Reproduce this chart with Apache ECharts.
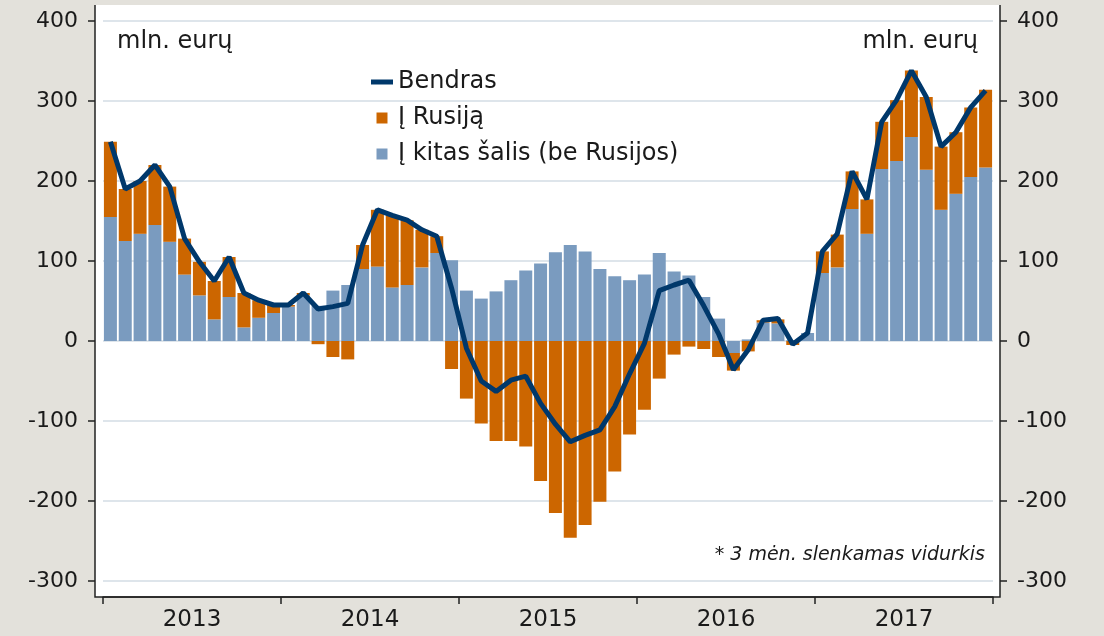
<!DOCTYPE html>
<html>
<head>
<meta charset="utf-8">
<script src="https://cdn.jsdelivr.net/npm/echarts@6/dist/echarts.min.js"></script>
<style>
  html, body { margin: 0; padding: 0; background: #e3e1db; }
  #chart { width: 1104px; height: 636px; }
</style>
</head>
<body>
<div id="chart"></div>
<script>
const years = ['2013', '2014', '2015', '2016', '2017'];
const monthsPerYear = 12;

// Į kitas šalis (be Rusijos), mln. eurų
const otherCountries = [
  155, 125, 134, 145, 124, 83, 57, 27, 55, 17, 29, 35,
  43, 57, 44, 63, 70, 90, 93, 67, 70, 92, 110, 101,
  63, 53, 62, 76, 88, 97, 111, 120, 112, 90, 81, 76,
  83, 110, 87, 82, 55, 28, -15, 2, 23, 22, 1, 10,
  85, 92, 165, 134, 215, 225, 255, 214, 164, 184, 205, 217
];
// Į Rusiją
const russia = [
  94, 65, 66, 75, 69, 45, 42, 48, 50, 43, 22, 10,
  2, 3, -4, -20, -23, 30, 71, 90, 81, 47, 21, -35,
  -72, -103, -125, -125, -132, -175, -215, -246, -230, -201, -163, -117,
  -86, -47, -17, -7, -10, -20, -22, -13, 3, 5, -5, 0,
  27, 41, 47, 43, 59, 76, 83, 91, 79, 77, 87, 97
];
// Bendras (3 mėn. slenkamas vidurkis)
const total = [
  249, 190, 200, 220, 193, 128, 99, 75, 105, 60, 51, 45,
  45, 60, 40, 43, 47, 120, 164, 157, 151, 139, 131, 66,
  -9, -50, -63, -49, -44, -78, -104, -126, -118, -111, -82, -41,
  -3, 63, 70, 76, 44, 9, -36, -11, 26, 28, -4, 10,
  112, 134, 212, 177, 274, 301, 338, 305, 243, 261, 292, 313
];
const yTicks = [-300, -200, -100, 0, 100, 200, 300, 400];

const months = [];
years.forEach(y => {
  for (let m = 1; m <= monthsPerYear; m++) months.push(y + '-' + String(m).padStart(2, '0'));
});

const font = 'DejaVu Sans';
const chart = echarts.init(document.getElementById('chart'));

const yAxisBase = {
  type: 'value',
  min: yTicks[0],
  max: yTicks[yTicks.length - 1],
  interval: 100,
  axisLine: { show: false },
  axisTick: { show: true, length: 7, lineStyle: { color: '#222', width: 1.5 } },
  axisLabel: { fontFamily: font, fontSize: 22, color: '#1a1a1a', margin: 17 }
};

chart.setOption({
  animation: false,
  backgroundColor: '#e3e1db',
  grid: { left: 103, right: 111, top: 21, bottom: 55 },
  legend: {
    orient: 'vertical',
    left: 366,
    top: 65,
    itemWidth: 22,
    itemHeight: 11,
    itemGap: 12,
    textStyle: { fontFamily: font, fontSize: 24, color: '#1a1a1a' },
    data: [
      { name: 'Bendras', icon: 'path://M0,0h22v5h-22z' },
      { name: 'Į Rusiją', icon: 'path://M0,0h10v10h-10z' },
      { name: 'Į kitas šalis (be Rusijos)', icon: 'path://M0,0h10v10h-10z' }
    ]
  },
  xAxis: [
    {
      type: 'category',
      data: months,
      show: false
    },
    {
      type: 'category',
      data: years,
      position: 'bottom',
      offset: 16,
      axisLine: { show: true, onZero: false, lineStyle: { color: '#222', width: 1.5 } },
      axisTick: { show: true, length: 7, lineStyle: { color: '#222', width: 1.5 } },
      axisLabel: { fontFamily: font, fontSize: 23, color: '#1a1a1a', margin: 12 },
      splitLine: { show: false }
    }
  ],
  yAxis: [
    Object.assign({}, yAxisBase, {
      position: 'left',
      offset: 8,
      splitLine: { show: true, lineStyle: { color: '#d3dde4', width: 1.5 } }
    }),
    Object.assign({}, yAxisBase, {
      position: 'right',
      offset: 7,
      splitLine: { show: false }
    })
  ],
  graphic: [
    {
      type: 'rect',
      z: -10,
      shape: { x: 95, y: 5, width: 905, height: 592 },
      style: { fill: '#ffffff' }
    },
    {
      type: 'polyline',
      z: 10,
      shape: { points: [[95, 5], [95, 597], [1000, 597], [1000, 5]] },
      style: { stroke: '#222', lineWidth: 1.5, fill: null }
    },
    {
      type: 'text',
      left: 117,
      top: 30,
      style: { text: 'mln. eurų', fontFamily: font, fontSize: 24, fill: '#1a1a1a' }
    },
    {
      type: 'text',
      right: 126,
      top: 30,
      style: { text: 'mln. eurų', fontFamily: font, fontSize: 24, fill: '#1a1a1a' }
    },
    {
      type: 'text',
      right: 119,
      top: 546,
      style: { text: '* 3 mėn. slenkamas vidurkis', fontFamily: font, fontSize: 19, fontStyle: 'italic', fill: '#1a1a1a' }
    }
  ],
  series: [
    {
      name: 'Į kitas šalis (be Rusijos)',
      type: 'bar',
      stack: 'exp',
      barWidth: 13,
      itemStyle: { color: '#7a9bbf' },
      data: otherCountries
    },
    {
      name: 'Į Rusiją',
      type: 'bar',
      stack: 'exp',
      barWidth: 13,
      itemStyle: { color: '#cc6600' },
      data: russia
    },
    {
      name: 'Bendras',
      type: 'line',
      symbol: 'none',
      z: 5,
      itemStyle: { color: '#00386b' },
      lineStyle: { color: '#00386b', width: 5 },
      data: total
    }
  ]
});
</script>
</body>
</html>
